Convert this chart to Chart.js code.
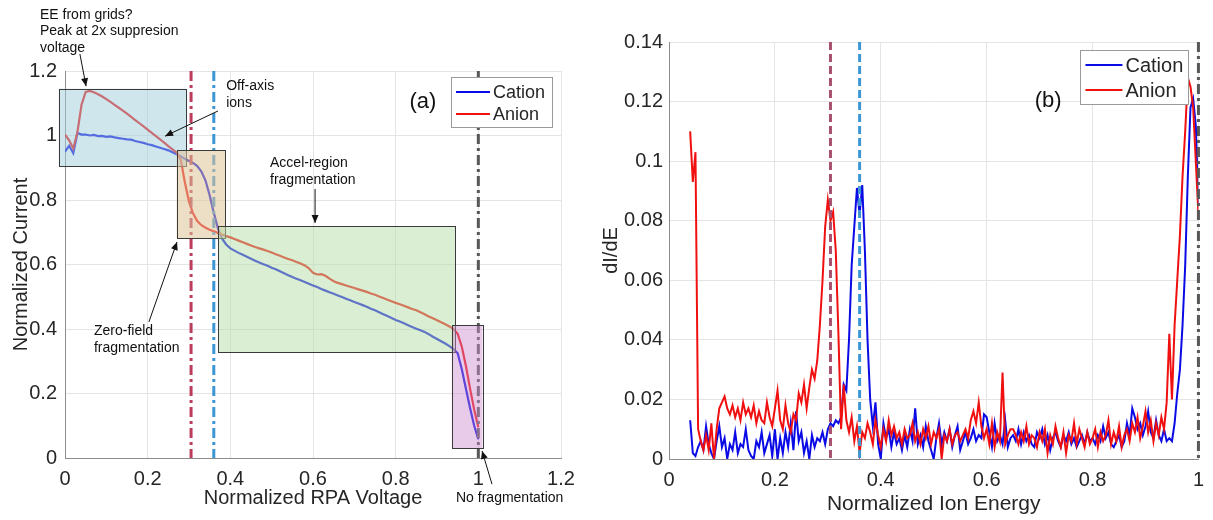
<!DOCTYPE html>
<html>
<head>
<meta charset="utf-8">
<script src="https://cdn.jsdelivr.net/npm/chart.js@4.4.1/dist/chart.umd.min.js"></script>
<style>
  html, body { margin: 0; padding: 0; background: #ffffff; }
  #wrap { position: relative; width: 1213px; height: 520px; overflow: hidden; }
  #cA { position: absolute; left: 0; top: 0; }
  #cB { position: absolute; left: 595px; top: 0; }
</style>
</head>
<body>
<div id="wrap">
  <canvas id="cA" width="595" height="520"></canvas>
  <canvas id="cB" width="618" height="520"></canvas>
</div>
<script>
// ---------------- Panel (a): Normalized current vs RPA voltage ----------------
const rpaVoltage = [
  0.00,0.01,0.02,0.03,0.04,0.05,0.06,0.07,0.08,0.09,
  0.10,0.11,0.12,0.13,0.14,0.15,0.16,0.17,0.18,0.19,
  0.20,0.21,0.22,0.23,0.24,0.25,0.26,0.27,0.28,0.29,
  0.30,0.31,0.32,0.33,0.34,0.35,0.36,0.37,0.38,0.39,
  0.40,0.41,0.42,0.43,0.44,0.45,0.46,0.47,0.48,0.49,
  0.50,0.51,0.52,0.53,0.54,0.55,0.56,0.57,0.58,0.59,
  0.60,0.61,0.62,0.63,0.64,0.65,0.66,0.67,0.68,0.69,
  0.70,0.71,0.72,0.73,0.74,0.75,0.76,0.77,0.78,0.79,
  0.80,0.81,0.82,0.83,0.84,0.85,0.86,0.87,0.88,0.89,
  0.90,0.91,0.92,0.93,0.94,0.95,0.96,0.97,0.98,0.99,
  1.00
];
const cationCurrent = [
  0.950,0.968,0.945,1.008,1.003,1.003,1.000,1.002,0.998,0.999,
  0.996,0.997,0.994,0.992,0.990,0.988,0.987,0.983,0.980,0.977,
  0.973,0.970,0.966,0.962,0.958,0.954,0.948,0.942,0.935,0.928,
  0.921,0.915,0.905,0.888,0.860,0.815,0.760,0.712,0.680,0.662,
  0.650,0.643,0.636,0.630,0.624,0.618,0.612,0.606,0.601,0.596,
  0.590,0.585,0.579,0.573,0.567,0.561,0.556,0.551,0.546,0.540,
  0.535,0.530,0.524,0.519,0.514,0.509,0.504,0.499,0.494,0.489,
  0.484,0.479,0.474,0.469,0.463,0.458,0.452,0.446,0.440,0.434,
  0.428,0.423,0.418,0.412,0.406,0.401,0.396,0.391,0.384,0.376,
  0.369,0.362,0.355,0.347,0.338,0.325,0.275,0.215,0.155,0.100,
  0.058
];
const anionCurrent = [
  1.003,0.985,0.960,1.010,1.095,1.135,1.138,1.134,1.128,1.121,
  1.113,1.104,1.095,1.086,1.077,1.068,1.058,1.048,1.038,1.028,
  1.018,1.008,0.998,0.988,0.978,0.967,0.957,0.947,0.925,0.855,
  0.795,0.758,0.735,0.722,0.714,0.708,0.703,0.698,0.693,0.688,
  0.684,0.679,0.674,0.669,0.664,0.659,0.654,0.650,0.646,0.642,
  0.637,0.632,0.627,0.622,0.617,0.613,0.608,0.603,0.597,0.588,
  0.574,0.569,0.570,0.565,0.556,0.548,0.543,0.539,0.535,0.531,
  0.527,0.523,0.519,0.515,0.510,0.506,0.501,0.496,0.491,0.486,
  0.481,0.477,0.472,0.467,0.462,0.458,0.452,0.446,0.439,0.433,
  0.427,0.421,0.415,0.408,0.400,0.385,0.345,0.285,0.215,0.150,
  0.095
];
const markersA = [0.305, 0.36, 1.0];           // vertical reference lines (x)
const regionBoxesA = [                          // [x0, x1, y0, y1]
  [-0.015, 0.293, 0.905, 1.145],
  [0.270, 0.387, 0.682, 0.955],
  [0.371, 0.944, 0.327, 0.719],
  [0.936, 1.010, 0.031, 0.412]
];

// ---------------- Panel (b): dI/dE vs ion energy ----------------
const ionEnergy = [
  0.040,0.045,0.050,0.055,0.060,0.065,0.070,0.075,0.080,0.085,
  0.090,0.095,0.100,0.105,0.110,0.115,0.120,0.125,0.130,0.135,
  0.140,0.145,0.150,0.155,0.160,0.165,0.170,0.175,0.180,0.185,
  0.190,0.195,0.200,0.205,0.210,0.215,0.220,0.225,0.230,0.235,
  0.240,0.245,0.250,0.255,0.260,0.265,0.270,0.275,0.280,0.285,
  0.290,0.295,0.300,0.305,0.310,0.315,0.320,0.325,0.330,0.335,
  0.340,0.345,0.350,0.355,0.360,0.365,0.370,0.375,0.380,0.385,
  0.390,0.395,0.400,0.405,0.410,0.415,0.420,0.425,0.430,0.435,
  0.440,0.445,0.450,0.455,0.460,0.465,0.470,0.475,0.480,0.485,
  0.490,0.495,0.500,0.505,0.510,0.515,0.520,0.525,0.530,0.535,
  0.540,0.545,0.550,0.555,0.560,0.565,0.570,0.575,0.580,0.585,
  0.590,0.595,0.600,0.605,0.610,0.615,0.620,0.625,0.630,0.635,
  0.640,0.645,0.650,0.655,0.660,0.665,0.670,0.675,0.680,0.685,
  0.690,0.695,0.700,0.705,0.710,0.715,0.720,0.725,0.730,0.735,
  0.740,0.745,0.750,0.755,0.760,0.765,0.770,0.775,0.780,0.785,
  0.790,0.795,0.800,0.805,0.810,0.815,0.820,0.825,0.830,0.835,
  0.840,0.845,0.850,0.855,0.860,0.865,0.870,0.875,0.880,0.885,
  0.890,0.895,0.900,0.905,0.910,0.915,0.920,0.925,0.930,0.935,
  0.940,0.945,0.950,0.955,0.960,0.965,0.970,0.975,0.980,0.985,
  0.990,0.995,1.000
];
const cationDIDE = [
  0.013,0.002,0.001,0.004,0.006,0.003,0.011,0.005,0.002,0.000,
  0.006,0.011,0.004,0.007,0.000,0.005,0.003,0.009,0.002,0.005,
  0.004,0.010,0.003,0.001,0.000,0.006,0.004,0.009,0.002,0.005,
  0.008,0.001,0.010,0.000,0.007,0.002,0.009,0.004,0.012,0.003,
  0.016,0.006,0.009,0.002,0.006,0.000,0.008,0.004,0.007,0.006,
  0.009,0.005,0.010,0.012,0.011,0.013,0.012,0.014,0.025,0.023,
  0.040,0.065,0.078,0.091,0.082,0.092,0.070,0.040,0.020,0.011,
  0.019,0.005,0.000,0.012,0.007,0.010,0.004,0.009,0.005,0.007,
  0.003,0.008,0.004,0.010,0.006,0.017,0.005,0.008,0.004,0.011,
  0.006,0.003,0.000,0.007,0.012,0.005,0.009,0.006,0.010,0.004,
  0.008,0.011,0.003,0.006,0.009,0.005,0.007,0.010,0.006,0.008,
  0.007,0.015,0.014,0.009,0.004,0.012,0.006,0.008,0.005,0.013,
  0.004,0.007,0.008,0.006,0.010,0.005,0.009,0.006,0.008,0.005,
  0.004,0.009,0.007,0.010,0.005,0.008,0.003,0.007,0.009,0.006,
  0.004,0.008,0.006,0.009,0.005,0.007,0.004,0.006,0.008,0.005,
  0.009,0.006,0.007,0.005,0.008,0.006,0.011,0.007,0.009,0.005,
  0.004,0.006,0.008,0.004,0.006,0.012,0.008,0.017,0.014,0.010,
  0.012,0.008,0.011,0.016,0.009,0.007,0.013,0.008,0.006,0.010,
  0.006,0.007,0.006,0.012,0.022,0.030,0.045,0.065,0.095,0.118,
  0.121,0.112,0.085
];
const anionDIDE = [
  0.110,0.093,0.103,0.010,0.006,0.003,0.008,0.003,0.012,0.000,
  0.010,0.017,0.019,0.021,0.017,0.015,0.018,0.014,0.017,0.013,
  0.019,0.015,0.017,0.014,0.018,0.012,0.016,0.013,0.012,0.019,
  0.014,0.011,0.017,0.023,0.013,0.010,0.018,0.012,0.009,0.015,
  0.013,0.022,0.019,0.025,0.017,0.024,0.030,0.027,0.033,0.045,
  0.060,0.078,0.087,0.080,0.083,0.070,0.042,0.010,0.025,0.013,
  0.009,0.014,0.006,0.011,0.002,0.009,0.007,0.012,0.009,0.005,
  0.013,0.008,0.004,0.010,0.006,0.013,0.008,0.011,0.007,0.009,
  0.005,0.010,0.007,0.008,0.012,0.006,0.009,0.005,0.010,0.007,
  0.011,0.005,0.009,0.007,0.010,0.000,0.008,0.006,0.010,0.005,
  0.008,0.009,0.006,0.008,0.010,0.007,0.013,0.016,0.012,0.019,
  0.011,0.007,0.010,0.005,0.012,0.004,0.009,0.006,0.029,0.005,
  0.008,0.010,0.010,0.008,0.005,0.009,0.006,0.011,0.005,0.008,
  0.007,0.004,0.009,0.006,0.010,0.002,0.008,0.005,0.011,0.007,
  0.004,0.009,0.002,0.008,0.006,0.012,0.005,0.010,0.007,0.004,
  0.009,0.005,0.007,0.010,0.004,0.009,0.006,0.008,0.013,0.005,
  0.009,0.006,0.011,0.004,0.008,0.010,0.006,0.012,0.009,0.014,
  0.007,0.011,0.016,0.009,0.013,0.006,0.012,0.008,0.014,0.010,
  0.019,0.042,0.020,0.045,0.060,0.075,0.095,0.110,0.128,0.125,
  0.118,0.100,0.082
];
const markersB = [0.305, 0.36, 1.0];
const seriesNames = ['Cation', 'Anion'];

// ---------------- shared styling ----------------
const FONT = '"Liberation Sans", Arial, Helvetica, sans-serif';
const TXT = '#262626';
const GRID = '#e4e4e4';
const AXIS = '#8c8c8c';
const BLUE = '#0a0ae6';
const RED = '#f01010';

function pts(xs, ys) { return xs.map((x, i) => ({ x: x, y: ys[i] })); }

function vline(ctx, x, a, color, dash) {
  ctx.save();
  ctx.strokeStyle = color; ctx.lineWidth = 3; ctx.setLineDash(dash);
  ctx.beginPath(); ctx.moveTo(x, a.top); ctx.lineTo(x, a.bottom); ctx.stroke();
  ctx.restore();
}
function arrow(ctx, x1, y1, x2, y2) {
  ctx.save();
  ctx.strokeStyle = '#111'; ctx.fillStyle = '#111'; ctx.lineWidth = 1;
  ctx.beginPath(); ctx.moveTo(x1, y1); ctx.lineTo(x2, y2); ctx.stroke();
  const ang = Math.atan2(y2 - y1, x2 - x1), L = 8, W = 3.5;
  ctx.beginPath();
  ctx.moveTo(x2, y2);
  ctx.lineTo(x2 - L * Math.cos(ang) + W * Math.sin(ang), y2 - L * Math.sin(ang) - W * Math.cos(ang));
  ctx.lineTo(x2 - L * Math.cos(ang) - W * Math.sin(ang), y2 - L * Math.sin(ang) + W * Math.cos(ang));
  ctx.closePath(); ctx.fill();
  ctx.restore();
}
function textLines(ctx, lines, x, y, lh, size) {
  ctx.save();
  ctx.fillStyle = '#111'; ctx.font = size + 'px ' + FONT;
  ctx.textAlign = 'left'; ctx.textBaseline = 'middle';
  lines.forEach((t, i) => ctx.fillText(t, x, y + i * lh));
  ctx.restore();
}
function legendBox(ctx, chart, left, top, w, h, size, lineLen, rows) {
  ctx.save();
  ctx.fillStyle = '#ffffff'; ctx.fillRect(left, top, w, h);
  ctx.strokeStyle = '#9a9a9a'; ctx.lineWidth = 1;
  ctx.strokeRect(Math.round(left) + 0.5, Math.round(top) + 0.5, w, h);
  ctx.font = size + 'px ' + FONT; ctx.textBaseline = 'middle'; ctx.textAlign = 'left';
  chart.data.datasets.forEach((ds, i) => {
    const yy = top + rows[i];
    ctx.strokeStyle = ds.borderColor; ctx.lineWidth = 2.2;
    ctx.beginPath(); ctx.moveTo(left + 5, yy); ctx.lineTo(left + 5 + lineLen, yy); ctx.stroke();
    ctx.fillStyle = TXT; ctx.fillText(ds.label, left + 8 + lineLen, yy + 1);
  });
  ctx.restore();
}

const overlayA = {
  id: 'overlayA',
  afterDatasetsDraw(chart) {
    const { ctx, chartArea: a, scales: { x, y } } = chart;
    const P = (u, v) => [x.getPixelForValue(u), y.getPixelForValue(v)];
    vline(ctx, x.getPixelForValue(markersA[0]), a, 'rgb(188,60,92)', [10, 4, 3, 4]);
    vline(ctx, x.getPixelForValue(markersA[1]), a, 'rgb(60,150,212)', [10, 4, 3, 4]);
    vline(ctx, x.getPixelForValue(markersA[2]), a, 'rgb(88,88,88)', [10, 4, 3, 4]);
    const fills = ['rgba(160,205,220,0.5)', 'rgba(222,195,152,0.55)', 'rgba(180,222,166,0.5)', 'rgba(205,140,205,0.45)'];
    regionBoxesA.forEach((b, i) => {
      const [x0, y1] = P(b[0], b[3]);
      const [x1, y0] = P(b[1], b[2]);
      ctx.save();
      ctx.fillStyle = fills[i];
      ctx.fillRect(x0, y1, x1 - x0, y0 - y1);
      ctx.strokeStyle = '#3a3a3a'; ctx.lineWidth = 1;
      ctx.strokeRect(Math.round(x0) + 0.5, Math.round(y1) + 0.5, Math.round(x1 - x0), Math.round(y0 - y1));
      ctx.restore();
    });
    // annotations
    let p = P(-0.0605, 1.374); textLines(ctx, ['EE from grids?', 'Peak at 2x suppresion', 'voltage'], p[0], p[1], 16.5, 14);
    let s = P(0.036, 1.253), e = P(0.051, 1.153); arrow(ctx, s[0], s[1], e[0], e[1]);
    p = P(0.390, 1.153); textLines(ctx, ['Off-axis', 'ions'], p[0], p[1], 17, 14);
    s = P(0.370, 1.076); e = P(0.242, 0.998); arrow(ctx, s[0], s[1], e[0], e[1]);
    p = P(0.496, 0.915); textLines(ctx, ['Accel-region', 'fragmentation'], p[0], p[1], 17, 14);
    s = P(0.605, 0.834); e = P(0.605, 0.729); arrow(ctx, s[0], s[1], e[0], e[1]);
    p = P(0.070, 0.394); textLines(ctx, ['Zero-field', 'fragmentation'], p[0], p[1], 17, 14);
    s = P(0.203, 0.422); e = P(0.271, 0.670); arrow(ctx, s[0], s[1], e[0], e[1]);
    p = P(0.946, -0.124); textLines(ctx, ['No fragmentation'], p[0], p[1], 17, 14);
    s = P(1.033, -0.081); e = P(1.009, 0.022); arrow(ctx, s[0], s[1], e[0], e[1]);
    p = P(0.866, 1.104);
    ctx.save(); ctx.fillStyle = '#111'; ctx.font = '22px ' + FONT; ctx.textAlign = 'center'; ctx.textBaseline = 'middle';
    ctx.fillText('(a)', p[0], p[1]); ctx.restore();
    legendBox(ctx, chart, a.right - 110, a.top + 6, 101, 50, 18, 34, [15, 37]);
  }
};

const overlayB = {
  id: 'overlayB',
  afterDatasetsDraw(chart) {
    const { ctx, chartArea: a, scales: { x, y } } = chart;
    vline(ctx, x.getPixelForValue(markersB[0]), a, 'rgb(168,82,112)', [8, 4]);
    vline(ctx, x.getPixelForValue(markersB[1]), a, 'rgb(60,150,212)', [8, 4]);
    vline(ctx, x.getPixelForValue(markersB[2]), a, 'rgb(88,88,88)', [10, 4, 3, 4]);
    ctx.save(); ctx.fillStyle = '#111'; ctx.font = '22px ' + FONT; ctx.textAlign = 'center'; ctx.textBaseline = 'middle';
    ctx.fillText('(b)', x.getPixelForValue(0.716), y.getPixelForValue(0.1202)); ctx.restore();
    legendBox(ctx, chart, a.right - 118, a.top + 8, 108, 54, 20, 37, [15, 40]);
  }
};

function fmtTick(v) { return String(Number(Number(v).toFixed(4))); }

function axisCommon(min, max, step, pad) {
  return {
    type: 'linear', min: min, max: max,
    ticks: { stepSize: step, padding: pad, color: TXT, font: { family: FONT, size: 20 }, callback: fmtTick },
    grid: { color: GRID, lineWidth: 1, drawTicks: false },
    border: { display: true, color: AXIS, width: 1 }
  };
}

// ---------- chart (a) ----------
const xa = axisCommon(0, 1.2, 0.2, 9);
xa.title = { display: true, text: 'Normalized RPA Voltage', color: TXT, font: { family: FONT, size: 20 }, padding: { top: 0, bottom: 10 } };
xa.afterFit = s => { s.height = 62; };
const ya = axisCommon(0, 1.2, 0.2, 8);
ya.title = { display: true, text: 'Normalized Current', color: TXT, font: { family: FONT, size: 20 }, padding: { top: 9, bottom: 0 } };
ya.afterFit = s => { s.width = 65; };

new Chart(document.getElementById('cA'), {
  type: 'line',
  data: {
    datasets: [
      { label: seriesNames[0], data: pts(rpaVoltage, cationCurrent), borderColor: BLUE, borderWidth: 2.2, pointRadius: 0, tension: 0, order: 1 },
      { label: seriesNames[1], data: pts(rpaVoltage, anionCurrent), borderColor: RED, borderWidth: 2.2, pointRadius: 0, tension: 0, order: 0 }
    ]
  },
  options: {
    responsive: false, animation: false, devicePixelRatio: 1,
    layout: { padding: { top: 71, right: 34, left: 0, bottom: 0 } },
    plugins: { legend: { display: false }, tooltip: { enabled: false } },
    scales: { x: xa, y: ya }
  },
  plugins: [overlayA]
});

// ---------- chart (b) ----------
const xb = axisCommon(0, 1, 0.2, 9);
xb.title = { display: true, text: 'Normalized Ion Energy', color: TXT, font: { family: FONT, size: 21 }, padding: { top: 0, bottom: 3 } };
xb.afterFit = s => { s.height = 61; };
const yb = axisCommon(0, 0.14, 0.02, 6);
yb.title = { display: true, text: 'dI/dE', color: TXT, font: { family: FONT, size: 20 }, padding: { top: 4, bottom: 0 } };
yb.afterFit = s => { s.width = 74; };

new Chart(document.getElementById('cB'), {
  type: 'line',
  data: {
    datasets: [
      { label: seriesNames[0], data: pts(ionEnergy, cationDIDE), borderColor: BLUE, borderWidth: 2, pointRadius: 0, tension: 0, order: 1 },
      { label: seriesNames[1], data: pts(ionEnergy, anionDIDE), borderColor: RED, borderWidth: 2, pointRadius: 0, tension: 0, order: 0 }
    ]
  },
  options: {
    responsive: false, animation: false, devicePixelRatio: 1,
    layout: { padding: { top: 42, right: 12, left: 0, bottom: 0 } },
    plugins: { legend: { display: false }, tooltip: { enabled: false } },
    scales: { x: xb, y: yb }
  },
  plugins: [overlayB]
});
</script>
</body>
</html>
